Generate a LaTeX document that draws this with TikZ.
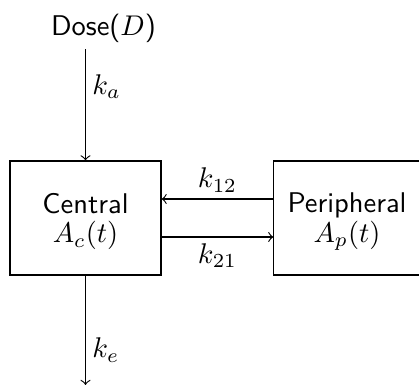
\documentclass[tikz,border=0pt]{standalone}
\usetikzlibrary{calc}
\begin{document}
\begin{tikzpicture}[x=0.351pt,y=-0.351pt,
  box/.style={draw,line width=0.4pt,rectangle,inner sep=0pt,minimum height=40pt,align=center,font=\sffamily},
  lbl/.style={inner sep=2.2pt},
  flow/.style={->,line width=0.4pt}]
\useasboundingbox (0,0) rectangle (419,385);
\node[box,minimum width=53pt] (central) at (85.5,218) {\rule{0pt}{9.5pt}Central\\[-1.5pt]$A_c(t)$};
\node[box,minimum width=51.3pt] (peripheral) at (347,218) {\rule{0pt}{9.5pt}Peripheral\\[-1.5pt]$A_p(t)$};
\node[font=\sffamily,inner sep=2.2pt] (dose) at (103.5,28) {Dose($D$)};
\coordinate (out) at (85.5,385);
\draw[flow] (dose.south -| central.north) -- node[lbl,right,pos=0.34] {$k_a$} (central.north);
\draw[flow] ($(peripheral.west)+(0,-19)$) -- node[lbl,above] {$k_{12}$} ($(central.east)+(0,-19)$);
\draw[flow] ($(central.east)+(0,19)$) -- node[lbl,below] {$k_{21}$} ($(peripheral.west)+(0,19)$);
\draw[flow] (central.south) -- node[lbl,right,pos=0.68] {$k_e$} (out);
\end{tikzpicture}
\end{document}
